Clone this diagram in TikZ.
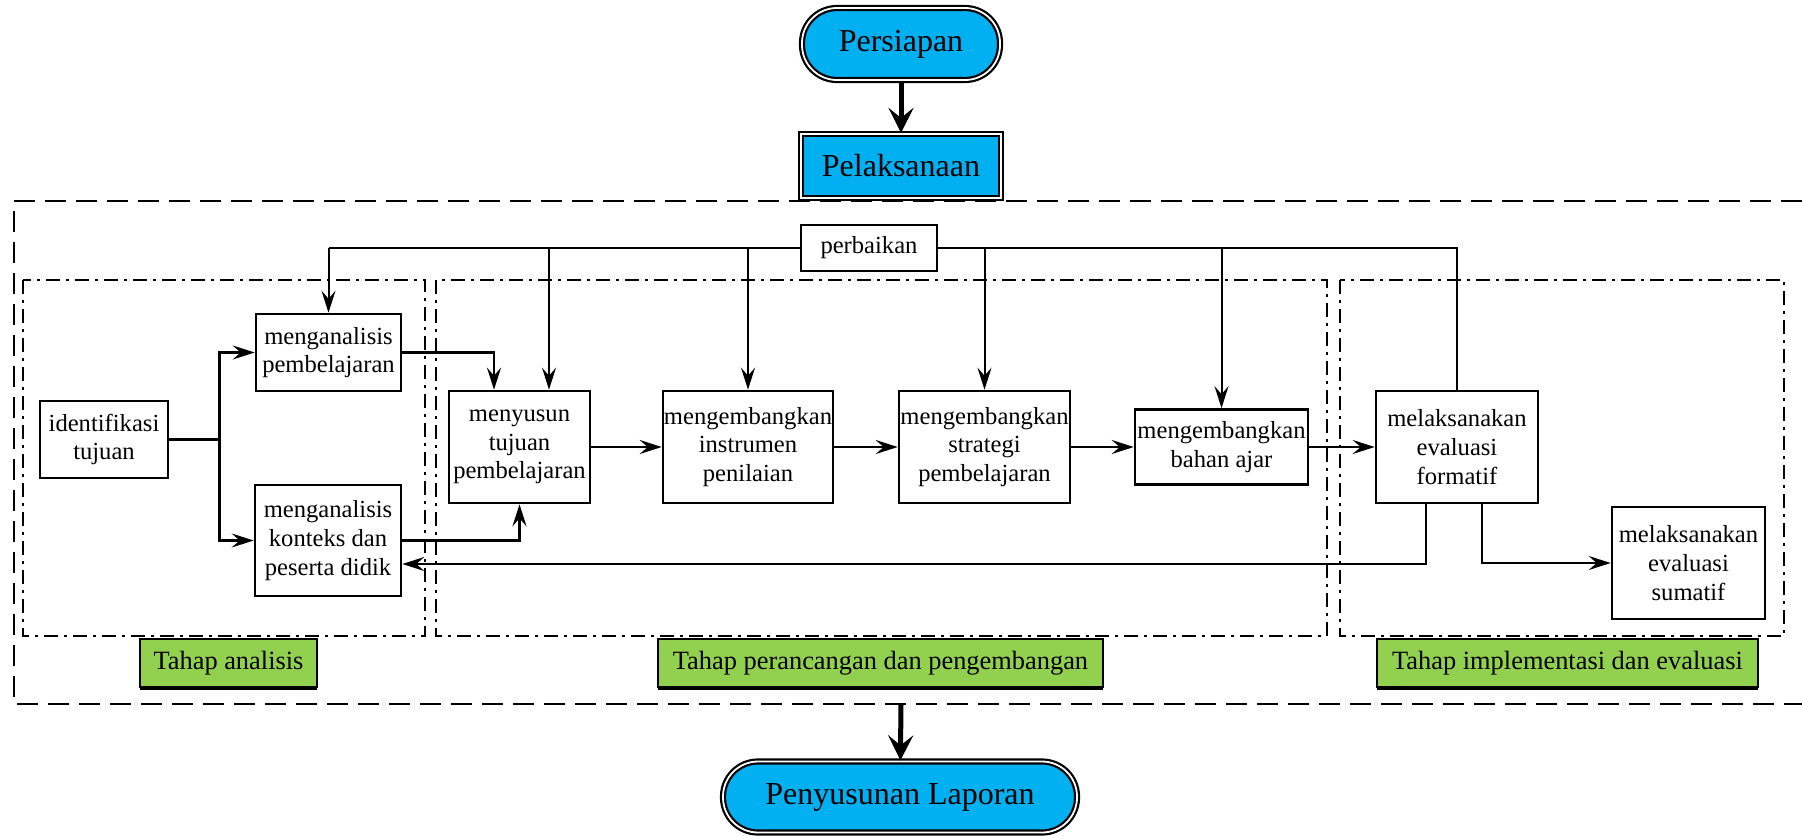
\documentclass[tikz,border=0pt]{standalone}
\usepackage{fontspec}
\setmainfont{Liberation Serif}
\usetikzlibrary{arrows.meta,calc,shadows}
\definecolor{cblue}{HTML}{00B0F0}
\definecolor{cgreen}{HTML}{92D050}
\begin{document}
\begin{tikzpicture}[x=0.5pt,y=-0.5pt,
  box/.style={draw,line width=1.3pt,fill=white,inner sep=0pt,align=center,font=\fontsize{12.3}{14.4}\selectfont},
  term/.style={draw,line width=1.1pt,double=white,double distance=0.9pt,fill=cblue,inner sep=0pt,font=\fontsize{16}{19}\selectfont},
  phaselabel/.style={draw,fill=cgreen,line width=0.8pt,inner sep=0pt,font=\fontsize{13.2}{15}\selectfont,drop shadow={shadow xshift=0.2pt,shadow yshift=-1.3pt,opacity=1,fill=black}},
  conn/.style={line width=1.25pt,-{Stealth[length=11pt,width=7pt,inset=4pt]}},
  dropconn/.style={line width=1pt,-{Stealth[length=11pt,width=7pt,inset=4pt]}},
  thinln/.style={line width=0.6pt},
  bigarr/.style={line width=2.5pt,-{Stealth[length=12.5pt,width=12.5pt,inset=5pt]}},
  stagebox/.style={line width=1.2pt,dash pattern=on 7pt off 3pt on 1.5pt off 3pt},
  outerbox/.style={line width=1.4pt,dash pattern=on 10.5pt off 5pt}
]
\useasboundingbox (0,0) rectangle (1802,835);

% frames
\draw[outerbox] (1802,201) -- (14,201) -- (14,704) -- (1802,704);
\draw[stagebox] (23,280) rectangle (425,636);
\draw[stagebox] (436,280) rectangle (1327,636);
\draw[stagebox] (1340,280) rectangle (1784,636);

% terminals
\node[term,minimum width=99pt,minimum height=36pt,rounded corners=17.5pt] (pers) at (901,44) {Persiapan};
\node[term,minimum width=100pt,minimum height=32pt] (pel) at (901,166) {Pelaksanaan};
\node[term,minimum width=177pt,minimum height=35.5pt,rounded corners=17.5pt] (pen) at (900,797) {Penyusunan Laporan};

% process boxes
\node[box,minimum width=68pt,minimum height=23pt] (perb) at (869,248) {perbaikan};
\node[box,minimum width=64pt,minimum height=38.5pt] (id) at (104,439.5) {identifikasi\\tujuan};
\node[box,minimum width=72.5pt,minimum height=38.5pt] (mp) at (328.5,352.5) {menganalisis\\pembelajaran};
\node[box,minimum width=73pt,minimum height=55.5pt] (mk) at (328,540.5) {menganalisis\\konteks dan\\peserta didik};
\node[box,minimum width=70.5pt,minimum height=56pt] (my) at (519.5,447) {menyusun\\tujuan\\pembelajaran};
\node[box,minimum width=85pt,minimum height=56pt] (ins) at (748,447) {mengembangkan\\instrumen\\penilaian};
\node[box,minimum width=85.5pt,minimum height=56pt] (str) at (984.5,447) {mengembangkan\\strategi\\pembelajaran};
\node[box,minimum width=86.5pt,minimum height=37.5pt] (bah) at (1221.5,447) {mengembangkan\\bahan ajar};
\node[box,minimum width=81pt,minimum height=56pt] (form) at (1457,447) {melaksanakan\\evaluasi\\formatif};
\node[box,minimum width=76.5pt,minimum height=56pt] (sum) at (1688.5,563) {melaksanakan\\evaluasi\\sumatif};

% phase labels
\node[phaselabel,minimum width=88.5pt,minimum height=24pt] (ta) at (228.5,663) {Tahap analisis};
\node[phaselabel,minimum width=222.5pt,minimum height=24pt] (tp) at (880.5,663) {Tahap perancangan dan pengembangan};
\node[phaselabel,minimum width=190.5pt,minimum height=24pt] (ti) at (1567.5,663) {Tahap implementasi dan evaluasi};

% main thick arrows
\coordinate (obot) at (901,704);
\draw[bigarr] (pers) -- (pel);
\draw[bigarr] (obot) -- (pen);

% perbaikan feedback lines
\coordinate (myA) at ($(my.north)+(29.5,0)$);
\draw[thinln] (perb.west) -- (perb.west -| mp.north);
\draw[dropconn] (perb.west -| mp.north) -- (mp.north);
\draw[dropconn] (perb.west -| myA) -- (myA);
\draw[dropconn] (perb.west -| ins.north) -- (ins.north);
\draw[thinln] (perb.east) -| (form.north);
\draw[dropconn] (perb.east -| str.north) -- (str.north);
\draw[dropconn] (perb.east -| bah.north) -- (bah.north);

% analysis branch
\coordinate (br) at ($(id.east)+(50,0)$);
\draw[conn] (id.east) -- (br) |- (mp.west);
\draw[conn] (br) |- (mk.west);
\coordinate (myB) at ($(my.north)+(-25.5,0)$);
\draw[conn] (mp.east) -| (myB);
\draw[conn] (mk.east) -| (my.south);

% main chain
\draw[conn] (my) -- (ins);
\draw[conn] (ins) -- (str);
\draw[conn] (str) -- (bah);
\draw[conn] (bah) -- (form);

% evaluation
\coordinate (fA) at ($(form.south)+(-31,0)$);
\coordinate (fB) at ($(form.south)+(25,0)$);
\coordinate (fbk) at ($(mk.east)+(0,23.5)$);
\draw[conn,line width=1pt] (fA) |- (fbk);
\draw[conn] (fB) |- (sum.west);
\end{tikzpicture}
\end{document}
